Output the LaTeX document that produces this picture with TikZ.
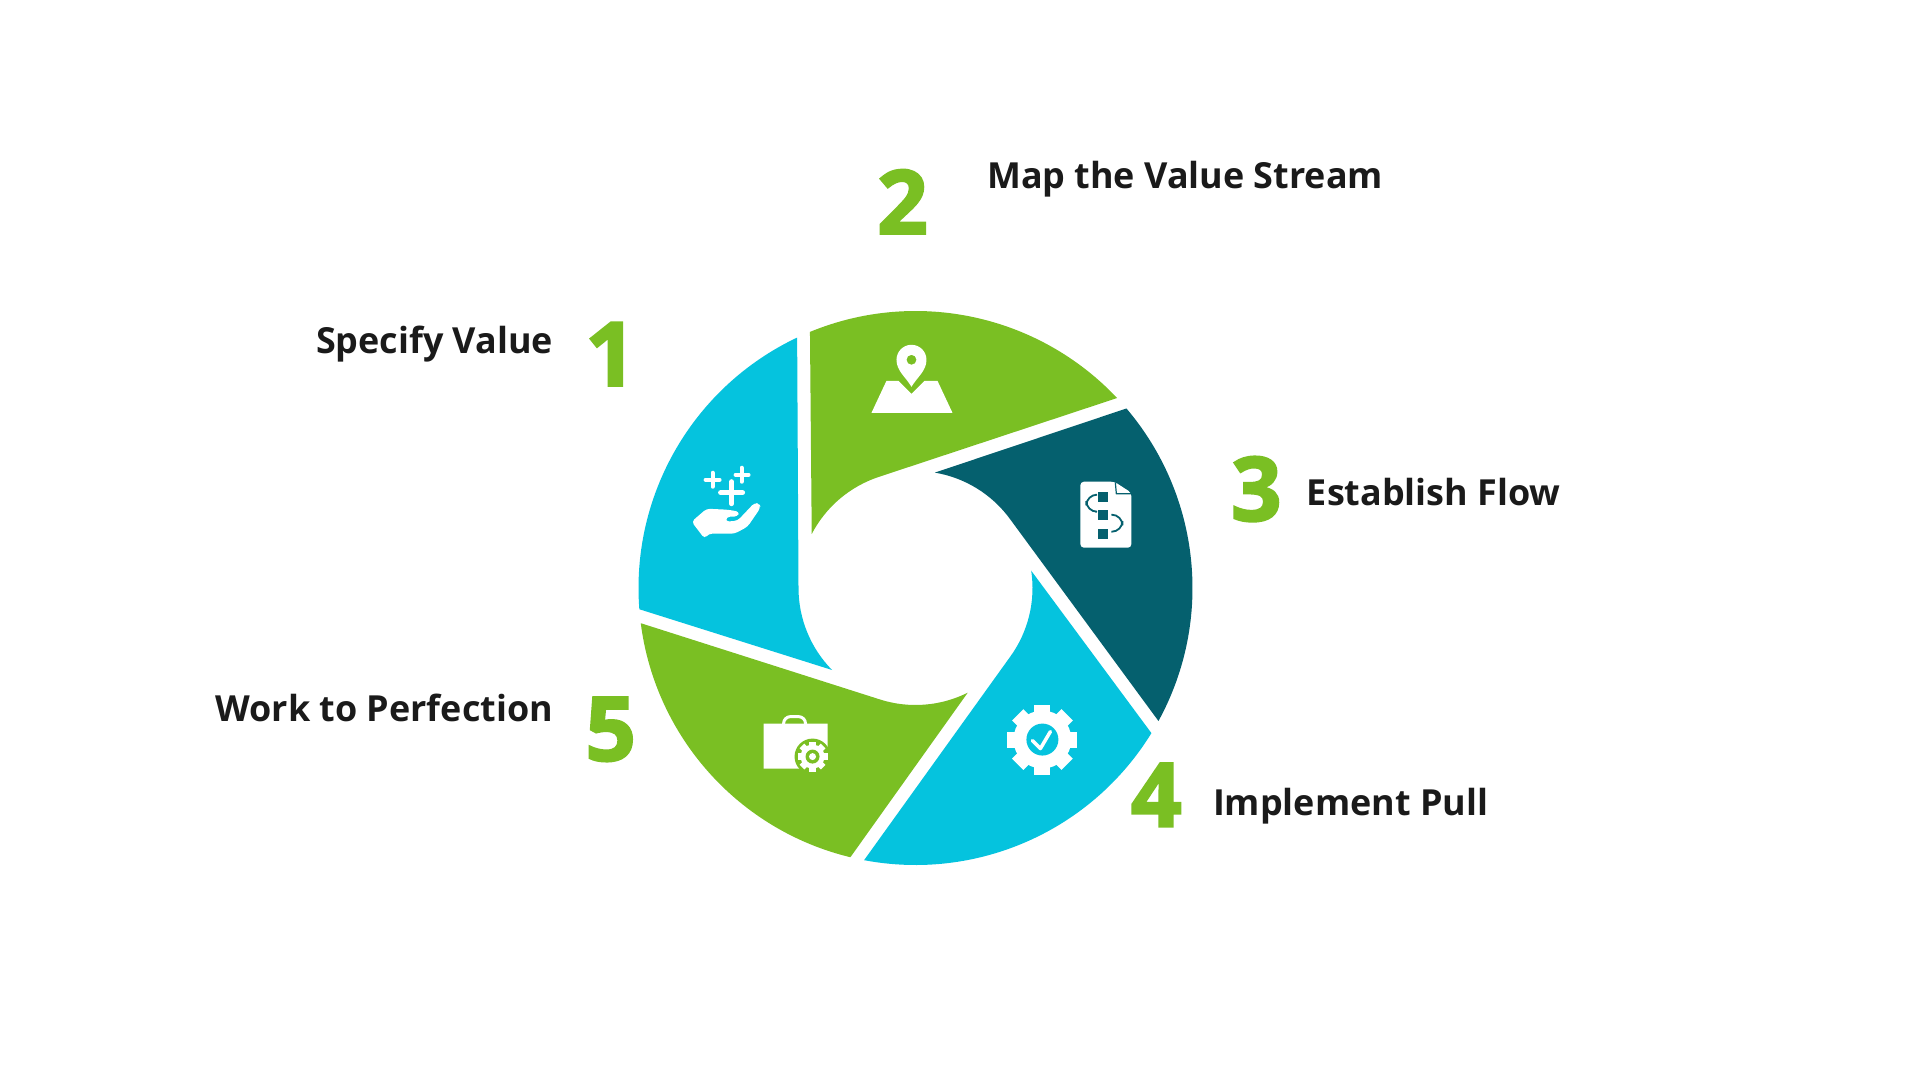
\documentclass[tikz,border=0pt]{standalone}
\usepackage{fontspec}
\setmainfont{Open Sans}
\newfontfamily\numfont{Open Sans}[BoldFeatures={FakeBold=2.5}]
\usetikzlibrary{positioning,calc}
\definecolor{wheelgreen}{HTML}{7ABF23}
\definecolor{wheelcyan}{HTML}{05C3DE}
\definecolor{wheeldark}{HTML}{05606E}
\definecolor{labelblack}{HTML}{1A1A1A}
\tikzset{
	px/.style = {x=.01cm, y=-.01cm}, % one unit is one pixel of the reference
	steplabel/.style = {text=labelblack, inner sep=0pt, font=\bfseries\fontsize{10.22}{13}\selectfont},
	stepnum/.style = {text=wheelgreen, inner sep=0pt, font=\numfont\bfseries\fontsize{25.2}{30}\selectfont},
	iconline/.style = {draw=white, line cap=round, line join=round}
}
% center x, center y, body radius, tooth radius, hole radius, hole colour
\newcommand{\gearicon}[6]{
	\fill[white] (#1,#2) circle[radius=#3];
	\foreach \toothangle in {0,45,...,315}
		\draw[white, line width=#3*.55*.01cm] (#1,#2) ++(\toothangle:#3-2) -- ++(\toothangle:#4-#3+2);
	\fill[#6] (#1,#2) circle[radius=#5];
}

\begin{document}
\begin{tikzpicture}
	\useasboundingbox (0,0) rectangle (19.2,-10.8);
	% the five blades of the wheel
	\begin{scope}[shift={(9.155,-5.88)}]
		\foreach \segrot/\segcol in {72/wheelcyan,0/wheelgreen,-72/wheeldark,-144/wheelcyan,-216/wheelgreen}
			\fill[\segcol] (\segrot+112.4:2.77) arc[start angle=\segrot+112.4, end angle=\segrot+43.3, radius=2.77]
				-- (\segrot+108:1.17) arc[start angle=\segrot+108, end angle=\segrot+152.5, radius=1.17] -- cycle;
	\end{scope}
	\begin{scope}[px]
		% labels
		\node[stepnum, anchor=base east] (num1) at (637,386) {1};
		\node[steplabel, anchor=base east] (label1) at (554,354) {Specify Value};
		\node[stepnum, anchor=base west] (num2) at (877,234) {2};
		\node[steplabel, anchor=base west] (label2) at (987,189) {Map the Value Stream};
		\node[stepnum, anchor=base west] (num3) at (1231,521) {3};
		\node[steplabel, anchor=base west] (label3) at (1307,506) {Establish Flow};
		\node[stepnum, anchor=base west] (num4) at (1131,827) {4};
		\node[steplabel, anchor=base west] (label4) at (1213,816) {Implement Pull};
		\node[stepnum, anchor=base west] (num5) at (585,761) {5};
		\node[steplabel, anchor=base east] (label5) at (554,722) {Work to Perfection};
		% hand with sparkles
		\draw[iconline, line width=.05cm] (721,493) -- (743,493) (732,482) -- (732,504);
		\draw[iconline, line width=.04cm] (706,480) -- (720,480) (713,473) -- (713,487);
		\draw[iconline, line width=.04cm] (736,475) -- (749,475) (742,468) -- (742,482);
		\fill[white, rounded corners=1] (692,522) -- (707,509) -- (728,510) -- (740,512) -- (738,517) -- (727,517) -- (726,522)
			-- (738,521) -- (755,503) -- (760,504) -- (761,508) -- (748,527) -- (735,534) -- (709,534) -- (705,539) -- cycle;
		% map with pin
		\fill[white, even odd rule] (912,387) .. controls (906,377) and (897,371) .. (897,360)
			arc[start angle=180, end angle=360, radius=15] .. controls (927,371) and (918,377) .. (912,387) -- cycle
			(912,360) circle[radius=5];
		\fill[white] (887,381) -- (899,381) -- (912,394) -- (925,381) -- (938,381) -- (953,413) -- (872,413) -- cycle;
		% flow document
		\fill[white, rounded corners=1] (1081,482) -- (1115,482) -- (1132,493) -- (1132,548) -- (1081,548) -- cycle;
		\draw[wheeldark, line width=.012cm] (1116,483) -- (1117,494) -- (1132,494);
		\foreach \boxy in {497,515,534}
			\fill[wheeldark] (1099,\boxy-5) rectangle (1109,\boxy+5);
		\draw[wheeldark, line width=.018cm, rounded corners=3] (1096,495) -- (1087,495) -- (1087,512) -- (1096,512);
		\draw[wheeldark, line width=.018cm, rounded corners=3] (1112,515) -- (1123,515) -- (1123,532) -- (1112,532);
		% gear with check
		\gearicon{1043}{740}{29}{35}{16}{wheelcyan}
		\draw[iconline, line width=.035cm] (1033,741) -- (1041,749) -- (1051,732);
		% case with gear
		\draw[iconline, line width=.03cm, rounded corners=2] (784,724) -- (784,717) -- (806,717) -- (806,724);
		\fill[white] (764,724) -- (828,724) -- (828,747) -- (813,757) -- (800,769) -- (764,769) -- cycle;
		\fill[wheelgreen] (813,757) circle[radius=18];
		\gearicon{813}{757}{12}{15}{7}{wheelgreen}
		\fill[white] (813,757) circle[radius=3.5];
	\end{scope}
\end{tikzpicture}
\end{document}
